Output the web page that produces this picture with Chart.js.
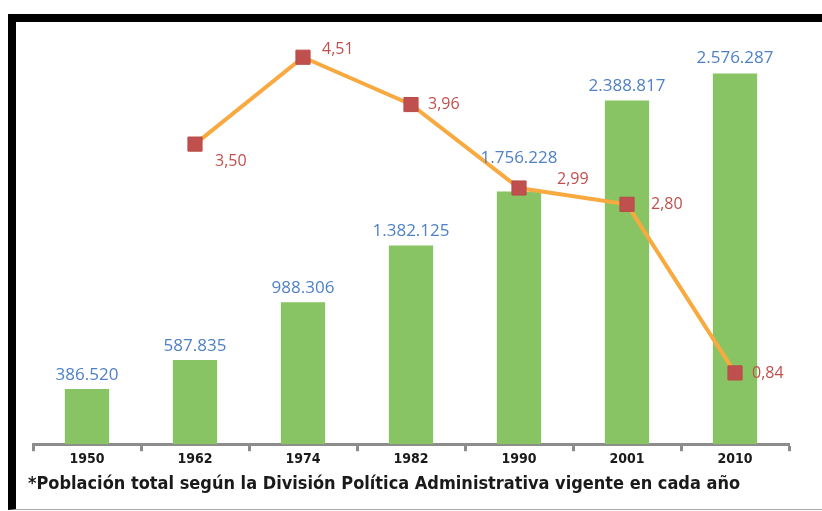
<!DOCTYPE html>
<html>
<head>
<meta charset="utf-8">
<script src="https://cdn.jsdelivr.net/npm/chart.js@4/dist/chart.umd.min.js"></script>
<style>
    html, body { margin: 0; padding: 0; background: #fff; }
    body { width: 822px; height: 511px; position: relative; overflow: hidden; }
    #frame {
        position: absolute; left: 8px; top: 14px; width: 806px; height: 487px;
        border-top: 8px solid #000; border-left: 8px solid #000; border-bottom: 1px solid #aaa;
    }
    #chart-box { position: absolute; left: 0; top: 0; width: 822px; height: 475px; }
    #note {
        position: absolute; left: 28px; top: 472px;
        font-family: "DejaVu Sans Condensed", "DejaVu Sans", sans-serif;
        font-weight: bold; font-size: 18px; color: #1a1a1a; white-space: nowrap;
    }
</style>
</head>
<body>
<div id="frame"></div>
<div id="chart-box"><canvas id="popChart"></canvas></div>
<div id="note">*Población total según la División Política Administrativa vigente en cada año</div>
<script>
const years = ['1950', '1962', '1974', '1982', '1990', '2001', '2010'];
const population = [386520, 587835, 988306, 1382125, 1756228, 2388817, 2576287];
const growthRate = [null, 3.50, 4.51, 3.96, 2.99, 2.80, 0.84];

// where each label sits relative to its bar top / marker
const popLabelLift = [14, 14, 14, 14, 33, 14, 15];
const rateLabelShift = [null, [20, 17], [19, -8], [17, 0], [38, -9], [24, 0], [17, 1]];

function formatPop(n) {
    return n.toString().replace(/\B(?=(\d{3})+(?!\d))/g, '.');
}

const valueLabels = {
    id: 'valueLabels',
    afterDatasetsDraw(chart) {
        const ctx = chart.ctx;
        ctx.save();
        const bars = chart.getDatasetMeta(1).data;
        ctx.font = '17px "Open Sans", sans-serif';
        ctx.fillStyle = '#4f81c4';
        ctx.textAlign = 'center';
        ctx.textBaseline = 'middle';
        bars.forEach((bar, i) => {
            ctx.fillText(formatPop(population[i]), bar.x, bar.y - popLabelLift[i]);
        });
        const points = chart.getDatasetMeta(0).data;
        ctx.font = '16px "Open Sans", sans-serif';
        ctx.fillStyle = '#c0504d';
        ctx.textAlign = 'left';
        points.forEach((pt, i) => {
            if (growthRate[i] === null) return;
            const s = rateLabelShift[i];
            ctx.fillText(growthRate[i].toFixed(2).replace('.', ','), pt.x + s[0], pt.y + s[1]);
        });
        ctx.restore();
    }
};

const ctx = document.getElementById('popChart').getContext('2d');
window.myChart = new Chart(ctx, {
    type: 'bar',
    data: {
        labels: years,
        datasets: [
            {
                type: 'line',
                label: 'Tasa de crecimiento',
                data: growthRate,
                yAxisID: 'y2',
                borderColor: '#f8a940',
                borderWidth: 4,
                pointStyle: 'rect',
                pointRadius: 10,
                pointBorderWidth: 1,
                pointBackgroundColor: '#c0504d',
                pointBorderColor: '#b84a47',
                tension: 0,
                order: 0
            },
            {
                label: 'Población',
                data: population,
                yAxisID: 'y',
                backgroundColor: '#88c463',
                barPercentage: 0.41,
                categoryPercentage: 1,
                order: 1
            }
        ]
    },
    options: {
        responsive: true,
        maintainAspectRatio: false,
        animation: false,
        layout: { padding: { left: 33, right: 33, top: 26, bottom: 7 } },
        plugins: {
            legend: { display: false },
            tooltip: { enabled: false }
        },
        scales: {
            x: {
                grid: {
                    offset: true,
                    drawOnChartArea: false,
                    drawTicks: true,
                    tickLength: 7,
                    tickColor: '#8c8c8c',
                    tickWidth: 3
                },
                border: { color: '#8c8c8c', width: 3 },
                ticks: {
                    color: '#1a1a1a',
                    padding: 0,
                    font: { family: '"DejaVu Sans Condensed", sans-serif', size: 14, weight: 'bold' }
                }
            },
            y: { display: false, min: 2800, max: 2906000 },
            y2: { display: false, min: 0.0116, max: 4.873 }
        }
    },
    plugins: [valueLabels]
});
</script>
</body>
</html>
